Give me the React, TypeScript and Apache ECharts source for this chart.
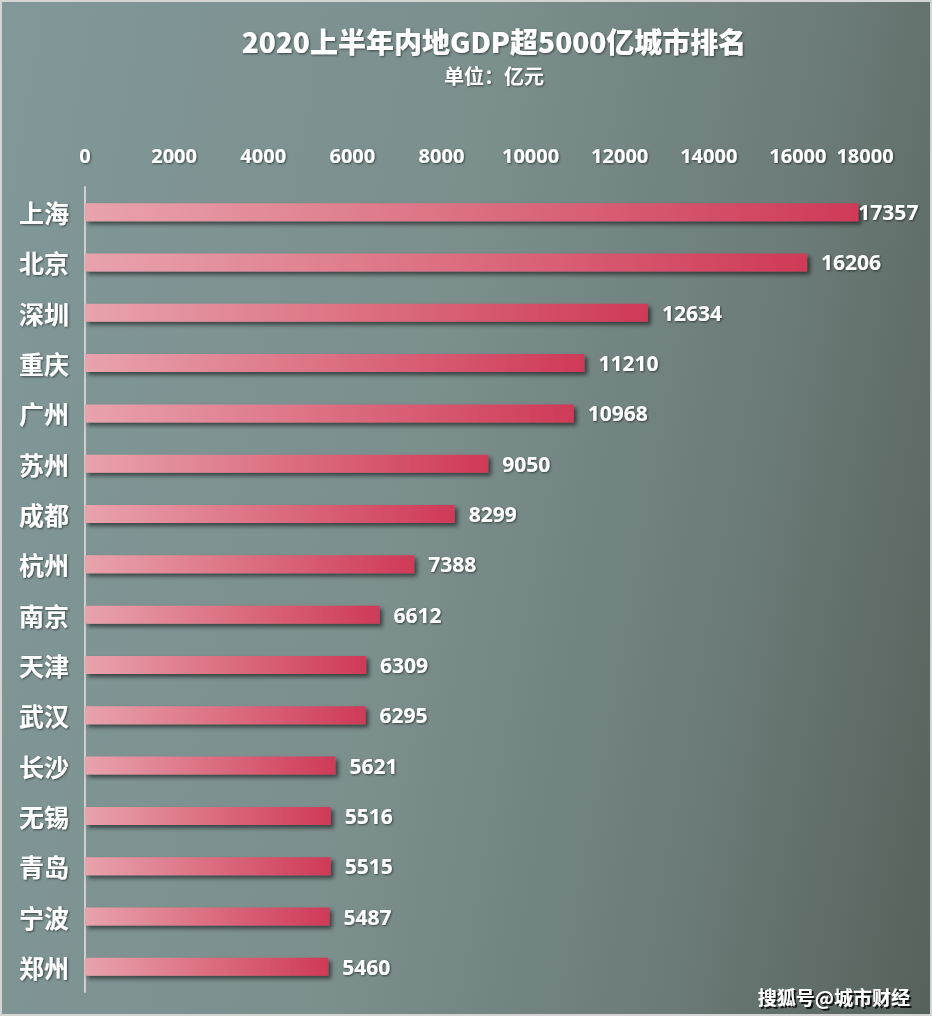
import React, { useEffect, useRef } from "react";
import * as echarts from "echarts";

const cities = ["上海", "北京", "深圳", "重庆", "广州", "苏州", "成都", "杭州", "南京", "天津", "武汉", "长沙", "无锡", "青岛", "宁波", "郑州"];
const gdp = [17357, 16206, 12634, 11210, 10968, 9050, 8299, 7388, 6612, 6309, 6295, 5621, 5516, 5515, 5487, 5460];
const titleText = "2020上半年内地GDP超5000亿城市排名";
const subText = "单位：亿元";
const watermark = "搜狐号@城市财经";
const axisMax = 18000;

export default function App() {
  const ref = useRef<HTMLDivElement>(null);
  useEffect(() => {
    document.body.style.margin = "0";
    const chart = echarts.init(ref.current!, null, { renderer: "svg" });
    const shadow = { textShadowColor: "rgba(0,0,0,0.55)", textShadowBlur: 2, textShadowOffsetX: 1, textShadowOffsetY: 1 };
    const barGrad = new echarts.graphic.LinearGradient(0, 0, 1, 0, [
      { offset: 0, color: "#e8a3ad" },
      { offset: 1, color: "#cf3a57" },
    ]);
    chart.setOption({
      animation: false,
      backgroundColor: "transparent",
      title: [
        {
          text: titleText,
          left: 494,
          top: 26,
          padding: 0,
          textAlign: "center",
          textStyle: { color: "#fff", fontSize: 28, lineHeight: 30, fontWeight: 900, fontFamily: "Noto Sans CJK SC", ...shadow },
        },
        {
          text: subText,
          left: 494,
          top: 64,
          padding: 0,
          textAlign: "center",
          textStyle: { color: "#fff", fontSize: 20, lineHeight: 22, fontWeight: "bold", fontFamily: "Noto Sans CJK SC", ...shadow },
        },
      ],
      graphic: [
        {
          type: "text",
          right: 22,
          bottom: 10,
          style: {
            text: watermark,
            fill: "#fff",
            font: "bold 19px 'Noto Sans CJK SC'",
            textShadowColor: "rgba(0,0,0,0.8)",
            textShadowBlur: 1,
            textShadowOffsetX: 2,
            textShadowOffsetY: 2,
          } as any,
        },
      ],
      grid: { left: 85, right: 45, top: 187, bottom: 24 },
      xAxis: {
        type: "value",
        position: "top",
        min: 0,
        max: axisMax,
        interval: 2000,
        axisLine: { show: false },
        axisTick: { show: false },
        splitLine: { show: false },
        axisLabel: {
          color: "#fff",
          fontSize: 20,
          fontWeight: "bold",
          fontFamily: "Open Sans",
          margin: 22,
          showMaxLabel: true,
          hideOverlap: false,
          formatter: (v: number) => (v === axisMax ? "{m|" + v + "}" : String(v)),
          rich: {
            m: {
              color: "#fff",
              fontSize: 20,
              fontWeight: "bold",
              fontFamily: "Open Sans",
              padding: [0, 44, 0, 0],
            },
          },
          ...shadow,
        },
      },
      yAxis: {
        type: "category",
        inverse: true,
        data: cities,
        axisLine: { show: true, lineStyle: { color: "#cfcfcf", width: 2 } },
        axisTick: { show: false },
        axisLabel: {
          color: "#fff",
          fontSize: 25,
          fontWeight: "bold",
          fontFamily: "Noto Sans CJK SC",
          margin: 16,
          ...shadow,
        },
      },
      series: [
        {
          type: "bar",
          barWidth: 18,
          data: gdp.map((v, i) =>
            i === 0 ? { value: v, label: { distance: 0 } } : { value: v }
          ),
          itemStyle: {
            color: barGrad,
            shadowColor: "rgba(0,0,0,0.55)",
            shadowBlur: 4,
            shadowOffsetX: 3,
            shadowOffsetY: 3,
          },
          label: {
            show: true,
            position: "right",
            distance: 14,
            color: "#fff",
            fontSize: 21,
            fontWeight: "bold",
            fontFamily: "Open Sans",
            ...shadow,
          },
        },
      ],
    });
    return () => chart.dispose();
  }, []);
  return (
    <div
      ref={ref}
      style={{
        width: 932,
        height: 1016,
        background: "linear-gradient(100deg, #819898 0%, #7b8f8d 45%, #6c7c78 75%, #56615b 100%)",
        boxShadow: "inset 0 0 0 2px #d4d4d4",
      }}
    />
  );
}
